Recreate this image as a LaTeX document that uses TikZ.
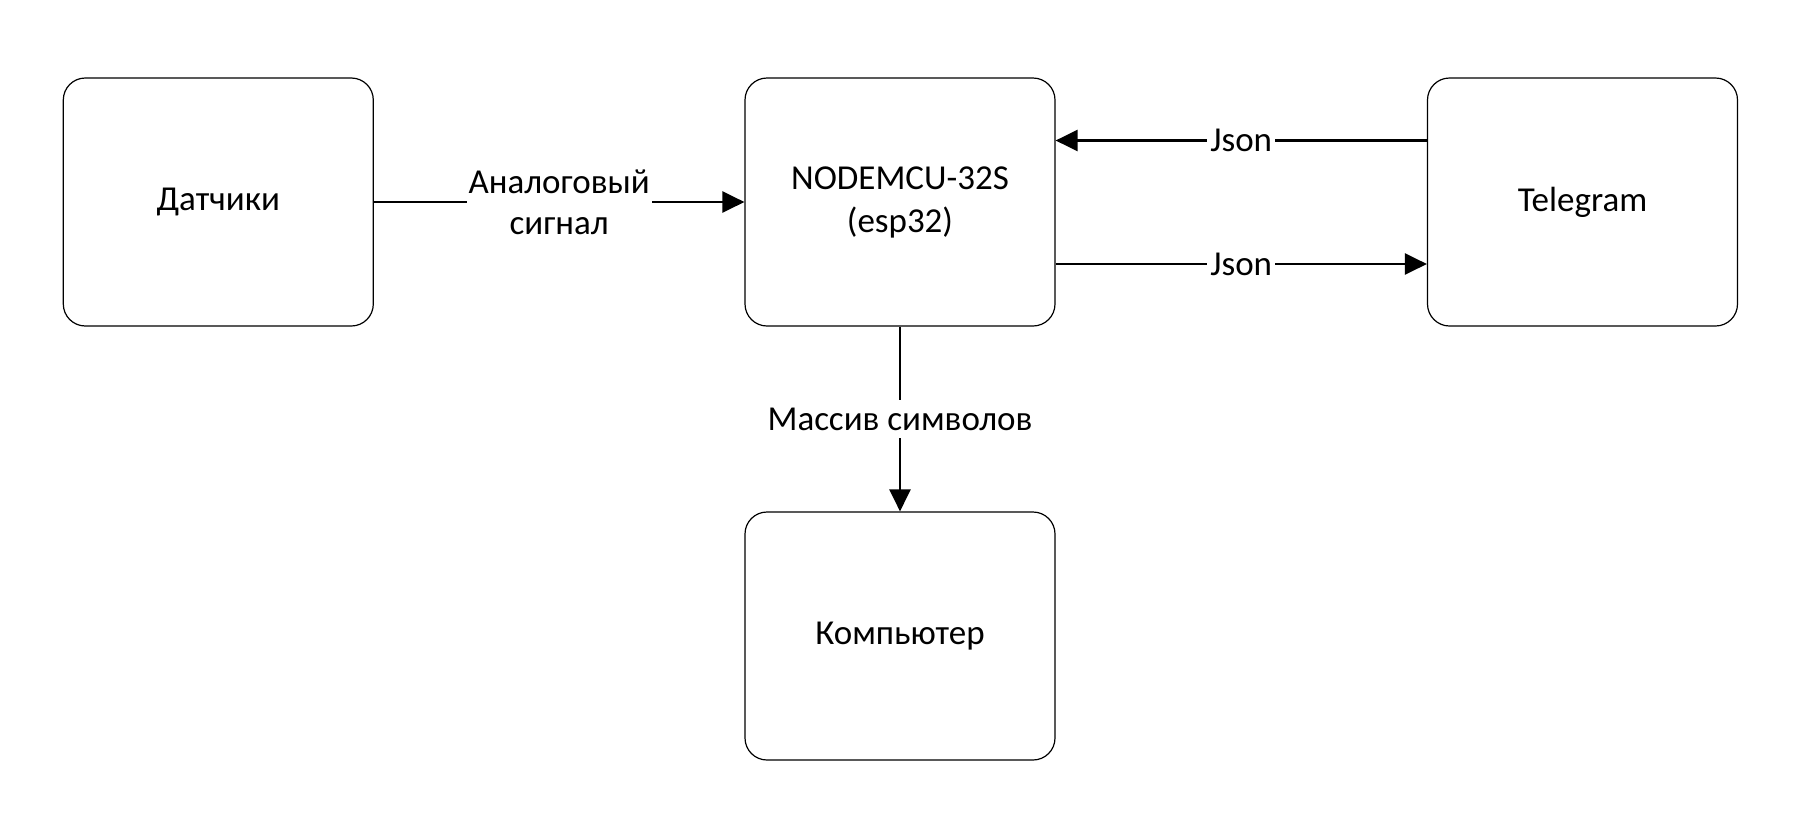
\documentclass[tikz,border=0pt]{standalone}
\usepackage{fontspec}
\setmainfont{Carlito}
\usetikzlibrary{arrows.meta}
\begin{document}
\begin{tikzpicture}[x=0.5pt,y=-0.5pt,
  box/.style={draw=black,line width=0.6pt,rounded corners=11pt,minimum width=155pt,minimum height=124pt,align=center,inner sep=0pt,font=\fontsize{17.5}{21.5}\selectfont},
  conn/.style={line width=1.2pt,-{Triangle[length=11pt,width=10.5pt]}},
  lbl/.style={fill=white,inner xsep=1pt,inner ysep=0.5pt,align=center,font=\fontsize{17.5}{20.5}\selectfont}]
\useasboundingbox (0,0) rectangle (1800,826);
\node[box] (d) at (218.3,202) {Датчики};
\node[box] (n) at (900,202) {NODEMCU-32S\\(esp32)};
\node[box] (t) at (1582.5,202) {Telegram};
\node[box] (k) at (900,636) {Компьютер};
\draw[conn] (d.east) -- node[lbl]{Аналоговый\\сигнал} (n.west);
\draw[conn] ([yshift=30.75pt]t.west) -- node[lbl,inner xsep=1.5pt]{Json} ([yshift=30.75pt]n.east);
\draw[conn] ([yshift=-31pt]n.east) -- node[lbl,inner xsep=1.5pt]{Json} ([yshift=-31pt]t.west);
\draw[conn] (n.south) -- node[lbl,inner ysep=4pt]{Массив символов} (k.north);
\end{tikzpicture}
\end{document}
